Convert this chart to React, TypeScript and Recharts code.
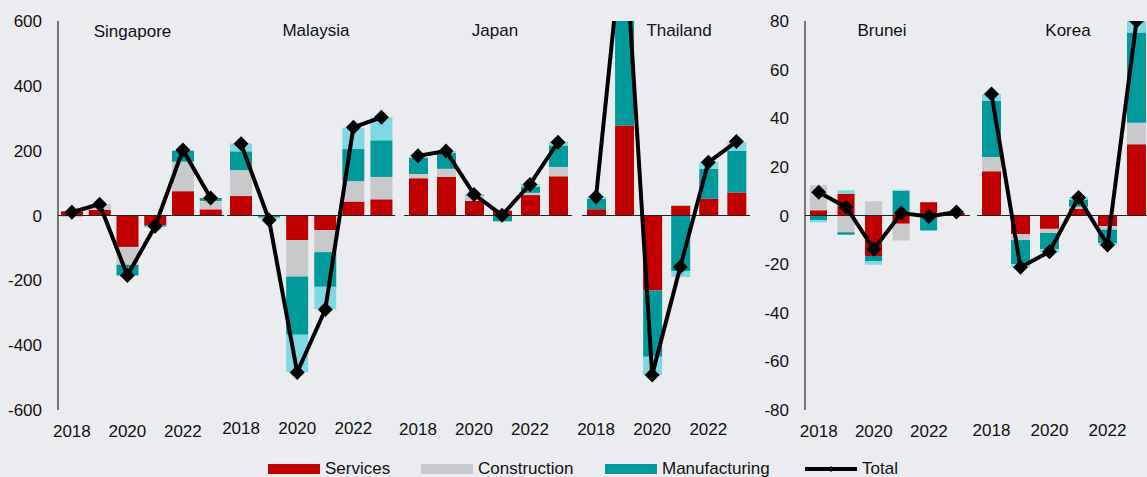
import React from 'react';
import { ComposedChart, Bar, Line, XAxis, YAxis, ReferenceLine } from 'recharts';

// ---------- data ----------
const years = ['2018', '2019', '2020', '2021', '2022', '2023'];
const yearTicks = ['2018', '2020', '2022'];
const leftTicks = [-600, -400, -200, 0, 200, 400, 600];
const rightTicks = [-80, -60, -40, -20, 0, 20, 40, 60, 80];

const singaporeServices = [13, 17, -97, -30, 75, 19];
const singaporeConstruction = [-5, 15, -55, 0, 91, 26];
const singaporeManufacturing = [0, 0, -33, -4, 34, 9];
const singaporeOther = [0, 3, 0, 0, 0, 0];
const singaporeTotal = [10, 35, -185, -33, 202, 54];

const malaysiaServices = [60, 0, -76, -45, 43, 50];
const malaysiaConstruction = [80, 0, -112, -68, 63, 69];
const malaysiaManufacturing = [58, -6, -180, -107, 99, 113];
const malaysiaOther = [24, -4, -115, -69, 66, 71];
const malaysiaTotal = [221, -14, -484, -290, 272, 303];

const japanServices = [115, 119, 45, 15, 63, 121];
const japanConstruction = [13, 25, 17, 0, 7, 29];
const japanManufacturing = [50, 49, 2, -17, 19, 66];
const japanOther = [4, 6, 1, -3, 7, 12];
const japanTotal = [184, 199, 65, 1, 96, 226];

const thailandServices = [19, 278, -231, 30, 52, 71];
const thailandConstruction = [0, 0, 0, 0, 0, 0];
const thailandManufacturing = [32, 600, -205, -171, 92, 128];
const thailandOther = [7, 22, -56, -19, 21, 27];
const thailandTotal = [58, 900, -492, -159, 164, 228];

const bruneiServices = [2.2, 8.8, -16.7, -3.4, 5.4, 1];
const bruneiConstruction = [10.2, -6.9, 5.9, -6.9, 0, 0];
const bruneiManufacturing = [-2, -1, -2, 10.2, -6.2, 0];
const bruneiOther = [-0.8, 1.6, -1.6, 0.4, 0, 0];
const bruneiTotal = [9.6, 3.4, -13.9, 1, -0.4, 1.4];

const koreaServices = [18.2, -7.6, -5.5, 2.8, -4.4, 29.3];
const koreaConstruction = [5.9, -2.5, -1.7, 0.8, -1.4, 8.8];
const koreaManufacturing = [23.1, -9.9, -6.6, 3, -5.6, 37.2];
const koreaOther = [2.8, -1.4, -1.4, 1, -0.8, 4.7];
const koreaTotal = [50, -21.3, -14.9, 7.4, -12.1, 80];

// ---------- styles ----------
const BG = '#ebecef';
const C_SERV = '#c00000';
const C_CONS = '#c8c9cb';
const C_MANU = '#009a9a';
const C_OTHER = '#80d8e2';
const FONT = '"Liberation Sans", Arial, Helvetica, sans-serif';
const TXT = '#111';
const PAD = 24;

function build(s: number[], c: number[], m: number[], o: number[], t: number[]) {
  return years.map((y, i) => ({
    year: y,
    services: s[i],
    construction: c[i],
    manufacturing: m[i],
    other: o[i],
    total: t[i],
  }));
}

const panels = [
  { name: 'Singapore', data: build(singaporeServices, singaporeConstruction, singaporeManufacturing, singaporeOther, singaporeTotal), plotX: 58, axisW: 58, plotW: 166.5, domain: [-600, 600], ticks: leftTicks, barSize: 22, tm: 8, labelX: 132.5, labelTop: 22 },
  { name: 'Malaysia', data: build(malaysiaServices, malaysiaConstruction, malaysiaManufacturing, malaysiaOther, malaysiaTotal), plotX: 226.5, axisW: 0, plotW: 168.5, domain: [-600, 600], ticks: leftTicks, barSize: 22, tm: 5, labelX: 316, labelTop: 21 },
  { name: 'Japan', data: build(japanServices, japanConstruction, japanManufacturing, japanOther, japanTotal), plotX: 404.3, axisW: 0, plotW: 168, domain: [-600, 600], ticks: leftTicks, barSize: 19, tm: 5.5, labelX: 495, labelTop: 21 },
  { name: 'Thailand', data: build(thailandServices, thailandConstruction, thailandManufacturing, thailandOther, thailandTotal), plotX: 582, axisW: 0, plotW: 168.4, domain: [-600, 600], ticks: leftTicks, barSize: 19, tm: 5.5, labelX: 679, labelTop: 21 },
  { name: 'Brunei', data: build(bruneiServices, bruneiConstruction, bruneiManufacturing, bruneiOther, bruneiTotal), plotX: 805.3, axisW: 58, plotW: 165.2, domain: [-80, 80], ticks: rightTicks, barSize: 17, tm: 8, labelX: 882, labelTop: 21 },
  { name: 'Korea', data: build(koreaServices, koreaConstruction, koreaManufacturing, koreaOther, koreaTotal), plotX: 977.2, axisW: 0, plotW: 174, domain: [-80, 80], ticks: rightTicks, barSize: 19, tm: 7, labelX: 1068, labelTop: 21 },
];

const Diamond = (props: any) => {
  const { cx, cy, index } = props;
  if (cx == null || cy == null || isNaN(cx) || isNaN(cy)) return <g key={`d-${index}`} />;
  const r = 7.5;
  return (
    <polygon
      key={`d-${index}`}
      points={`${cx},${cy - r} ${cx + r},${cy} ${cx},${cy + r} ${cx - r},${cy}`}
      fill="#000"
    />
  );
};

const Panel = ({ p }: { p: any }) => {
  const leftPad = p.axisW > 0 ? 0 : PAD;
  const width = leftPad + p.axisW + p.plotW + PAD;
  const left = p.plotX - p.axisW - leftPad;
  return (
    <div style={{ position: 'absolute', left, top: 0 }}>
      <ComposedChart
        width={width}
        height={477}
        data={p.data}
        stackOffset="sign"
        margin={{ top: 21, right: PAD, bottom: 37, left: leftPad }}
        barCategoryGap={0}
      >
        <XAxis
          dataKey="year"
          ticks={yearTicks}
          interval={0}
          axisLine={false}
          tickLine={false}
          tickSize={7}
          tickMargin={p.tm}
          height={30}
          tick={{ fontSize: 17, fill: TXT, fontFamily: FONT }}
        />
        <YAxis
          type="number"
          domain={p.domain}
          ticks={p.ticks}
          allowDataOverflow
          hide={p.axisW === 0}
          width={p.axisW || 0}
          axisLine={{ stroke: '#000', strokeWidth: 1 }}
          tickLine={false}
          tickSize={8}
          tickMargin={8}
          tick={{ fontSize: 17, fill: TXT, fontFamily: FONT }}
        />
        <ReferenceLine y={0} stroke="#222" strokeWidth={1} ifOverflow="hidden" />
        <Bar dataKey="services" stackId="a" fill={C_SERV} barSize={p.barSize} isAnimationActive={false} />
        <Bar dataKey="construction" stackId="a" fill={C_CONS} barSize={p.barSize} isAnimationActive={false} />
        <Bar dataKey="manufacturing" stackId="a" fill={C_MANU} barSize={p.barSize} isAnimationActive={false} />
        <Bar dataKey="other" stackId="a" fill={C_OTHER} barSize={p.barSize} isAnimationActive={false} />
        <Line
          dataKey="total"
          type="linear"
          stroke="#000"
          strokeWidth={4}
          dot={Diamond}
          activeDot={false}
          isAnimationActive={false}
        />
      </ComposedChart>
    </div>
  );
};

const legendItems = [
  { label: 'Services', color: C_SERV, x: 268, kind: 'rect' },
  { label: 'Construction', color: C_CONS, x: 421, kind: 'rect' },
  { label: 'Manufacturing', color: C_MANU, x: 605, kind: 'rect' },
  { label: 'Total', color: '#000', x: 805, kind: 'line' },
];

export default function App() {
  return (
    <div
      style={{
        position: 'absolute',
        left: 0,
        top: 0,
        width: 1147,
        height: 477,
        background: BG,
        overflow: 'hidden',
        fontFamily: FONT,
      }}
    >
      {panels.map((p) => (
        <Panel key={p.name} p={p} />
      ))}
      {panels.map((p) => (
        <div
          key={`lbl-${p.name}`}
          style={{
            position: 'absolute',
            left: p.labelX,
            top: p.labelTop,
            transform: 'translateX(-50%)',
            fontSize: 17,
            lineHeight: '20px',
            color: TXT,
            whiteSpace: 'nowrap',
          }}
        >
          {p.name}
        </div>
      ))}
      {legendItems.map((it) => (
        <div key={it.label} style={{ position: 'absolute', left: it.x, top: 459, height: 20, display: 'flex', alignItems: 'center' }}>
          {it.kind === 'rect' ? (
            <div style={{ width: 52, height: 10, background: it.color }} />
          ) : (
            <svg width={52} height={12}>
              <line x1={1} y1={6} x2={51} y2={6} stroke="#000" strokeWidth={4} strokeLinecap="round" />
              <polygon points="26,3 29,6 26,9 23,6" fill="#000" />
            </svg>
          )}
          <span style={{ marginLeft: 5, fontSize: 17, lineHeight: '20px', color: TXT, whiteSpace: 'nowrap' }}>{it.label}</span>
        </div>
      ))}
    </div>
  );
}
